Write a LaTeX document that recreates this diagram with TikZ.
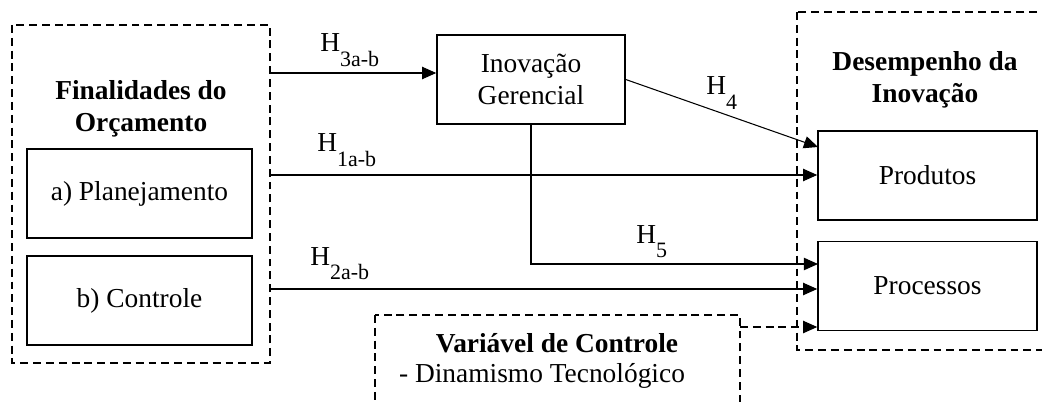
\documentclass[tikz,border=0pt]{standalone}
\usepackage{fontspec}
\setmainfont{Liberation Serif}
\newfontfamily\timesfont{Liberation Serif}
\usetikzlibrary{arrows.meta}
\tikzset{
  box/.style={draw,line width=0.9pt,align=center,inner sep=0pt,minimum height=1.78cm},
  dashbox/.style={draw,dash pattern=on 4.5pt off 2.8pt,line width=0.9pt},
  link/.style={line width=0.6pt,-{Triangle[length=8pt,width=7pt]}},
  hlabel/.style={inner sep=0pt,anchor=base west},
  txt/.style={inner sep=0pt,anchor=base},
  heading/.style={align=center,font=\timesfont\fontsize{15.6pt}{18.1pt}\selectfont\bfseries},
}
\newcommand{\hyp}[1]{H\raisebox{-8.5pt}{\fontsize{12.5pt}{14pt}\selectfont #1}}

\begin{document}
\begin{tikzpicture}[x=0.02cm,y=-0.02cm,font=\timesfont\fontsize{15.6pt}{18.1pt}\selectfont]
      \useasboundingbox (0,0) rectangle (1042,402);

      \draw[dashbox] (12,25) rectangle (270,363);
      \draw[dashbox] (797,12) rectangle (1060,350);
      \draw[dashbox] (375,315) rectangle (740,420);

      \node[heading] (fintit) at (141,109) {Finalidades do\\Orçamento};
      \node[box,minimum width=4.5cm] (plano) at (139.5,193.5) {a) Planejamento};
      \node[box,minimum width=4.5cm] (contr) at (139.5,300.5) {b) Controle};
      \node[box,minimum width=3.76cm] (inov) at (531,79.5) {Inovação\\Gerencial};
      \node[heading] (desemp) at (925,80) {Desempenho da\\Inovação};
      \node[box,minimum width=4.38cm] (prod) at (927.5,175.5) {Produtos};
      \node[box,minimum width=4.38cm] (proc) at (927.5,286) {Processos};
      \node[txt,heading] (vartit) at (557,352) {Variável de Controle};
      \node[txt] (varitem) at (542,382) {- Dinamismo Tecnológico};

      \coordinate (s3) at (270,73);
      \coordinate (s1) at (270,175);
      \coordinate (s2) at (270,289);
      \coordinate (s6) at (740,327);
      \coordinate (e4) at (818,147);
      \coordinate (e5) at (818,264);

      \draw[link] (s3) -- (s3 -| inov.west);
      \draw[link] (s1) -- (s1 -| prod.west);
      \draw[link] (s2) -- (s2 -| proc.west);
      \draw[link] (inov.east) -- (e4);
      \draw[link] (inov.south) |- (e5);
      \draw[link,dash pattern=on 4.5pt off 2.8pt] (s6) -- (s6 -| proc.west);

      \node[hlabel] (h3) at (320,52) {\hyp{3a-b}};
      \node[hlabel] (h1) at (317,152) {\hyp{1a-b}};
      \node[hlabel] (h2) at (310,265) {\hyp{2a-b}};
      \node[hlabel] (h4) at (706,95) {\hyp{4}};
      \node[hlabel] (h5) at (636,243) {\hyp{5}};
     \end{tikzpicture}
\end{document}
